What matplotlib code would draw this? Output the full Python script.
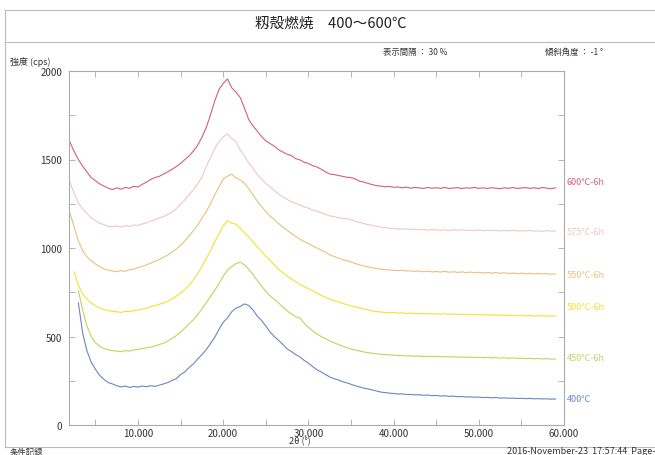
import numpy as np
import matplotlib
matplotlib.use("Agg")
import matplotlib.pyplot as plt
from matplotlib.lines import Line2D

plt.rcParams['font.family'] = ['Noto Sans CJK JP', 'DejaVu Sans']

nan = np.nan
two_theta = np.arange(2.0, 59.01, 0.5)

s600 = [1600, 1545, 1500, 1462, 1430, 1398, 1380, 1362, 1350, 1338,
        1330, 1340, 1332, 1342, 1338, 1348, 1345, 1360, 1372, 1388,
        1398, 1405, 1418, 1430, 1445, 1460, 1478, 1500, 1520, 1548,
        1580, 1625, 1680, 1750, 1830, 1895, 1930, 1955, 1905, 1880,
        1850, 1790, 1725, 1690, 1660, 1630, 1605, 1590, 1575, 1555,
        1542, 1530, 1522, 1505, 1498, 1485, 1478, 1465, 1458, 1445,
        1430, 1418, 1415, 1410, 1405, 1400, 1398, 1390, 1378, 1372,
        1365, 1358, 1352, 1350, 1346, 1348, 1343, 1345, 1340, 1344,
        1338, 1342, 1340, 1336, 1342, 1338, 1340, 1337, 1342, 1336,
        1339, 1341, 1336, 1340, 1338, 1342, 1337, 1340, 1336, 1341,
        1338, 1335, 1340, 1337, 1342, 1336, 1339, 1341, 1337, 1340,
        1336, 1342, 1338, 1335, 1340]

s575 = [1372, 1310, 1255, 1222, 1195, 1170, 1155, 1140, 1132, 1122,
        1120, 1125, 1118, 1126, 1122, 1130, 1128, 1136, 1142, 1152,
        1160, 1170, 1178, 1190, 1203, 1222, 1248, 1272, 1300, 1330,
        1362, 1400, 1460, 1510, 1560, 1600, 1628, 1644, 1620, 1600,
        1555, 1520, 1480, 1450, 1415, 1390, 1365, 1345, 1325, 1305,
        1288, 1275, 1262, 1252, 1242, 1232, 1225, 1215, 1209, 1200,
        1190, 1181, 1178, 1172, 1168, 1165, 1160, 1150, 1145, 1138,
        1132, 1128, 1122, 1118, 1115, 1112, 1110, 1108, 1106, 1109,
        1104, 1106, 1103, 1105, 1101, 1104, 1102, 1100, 1104, 1099,
        1102, 1100, 1103, 1098, 1101, 1099, 1102, 1097, 1100, 1098,
        1101, 1096, 1099, 1097, 1100, 1095, 1098, 1096, 1099, 1095,
        1097, 1094, 1098, 1095, 1096]

s550 = [1200, 1120, 1040, 985, 950, 928, 910, 895, 882, 875,
        870, 866, 872, 868, 878, 880, 890, 896, 905, 915,
        925, 935, 948, 960, 977, 995, 1015, 1040, 1068, 1098,
        1130, 1168, 1205, 1250, 1300, 1345, 1390, 1405, 1418, 1395,
        1385, 1365, 1335, 1300, 1265, 1235, 1205, 1180, 1160, 1138,
        1119, 1100, 1082, 1065, 1050, 1036, 1025, 1012, 1000, 988,
        975, 962, 952, 943, 935, 928, 921, 912, 905, 898,
        893, 888, 884, 881, 878, 876, 874, 872, 874, 870,
        871, 868, 870, 866, 869, 865, 867, 864, 868, 863,
        866, 862, 865, 861, 864, 860, 863, 859, 862, 858,
        861, 857, 860, 856, 859, 855, 858, 854, 857, 853,
        856, 853, 855, 852, 853]

s500 = [nan, 865, 790, 740, 712, 690, 675, 662, 652, 648,
        642, 640, 636, 642, 640, 646, 650, 655, 660, 668,
        675, 682, 690, 700, 712, 728, 745, 765, 790, 820,
        855, 895, 940, 985, 1035, 1080, 1125, 1153, 1140, 1135,
        1110, 1085, 1062, 1035, 1005, 980, 955, 930, 905, 880,
        860, 842, 825, 810, 795, 782, 770, 758, 745, 732,
        722, 712, 703, 695, 688, 680, 673, 668, 660, 655,
        650, 645, 641, 638, 636, 634, 635, 632, 634, 630,
        632, 629, 631, 628, 630, 627, 629, 626, 629, 625,
        628, 624, 627, 623, 626, 622, 625, 621, 624, 620,
        623, 619, 622, 618, 621, 617, 620, 616, 619, 615,
        618, 615, 617, 614, 616]

s450 = [nan, nan, 760, 650, 560, 500, 465, 445, 432, 425,
        420, 418, 414, 420, 418, 425, 426, 432, 436, 440,
        446, 455, 462, 475, 490, 505, 525, 548, 572, 595,
        625, 655, 690, 725, 760, 800, 840, 875, 895, 912,
        920, 905, 880, 850, 815, 785, 755, 728, 710, 690,
        665, 645, 628, 612, 605, 575, 552, 532, 515, 500,
        488, 475, 465, 455, 446, 438, 430, 424, 418, 413,
        409, 405, 402, 400, 398, 396, 395, 392, 394, 390,
        391, 388, 390, 387, 389, 386, 388, 385, 387, 384,
        386, 383, 385, 382, 384, 381, 383, 380, 382, 379,
        381, 378, 380, 377, 379, 376, 378, 375, 377, 374,
        376, 373, 375, 372, 373]

s400 = [nan, nan, 690, 520, 420, 355, 315, 280, 258, 240,
        232, 222, 215, 220, 212, 218, 214, 220, 216, 222,
        218, 225, 232, 240, 252, 262, 285, 300, 325, 345,
        372, 398, 425, 460, 495, 540, 580, 605, 640, 660,
        670, 684, 675, 650, 615, 590, 560, 525, 500, 478,
        455, 430, 415, 398, 385, 365, 350, 330, 312, 300,
        285, 272, 262, 255, 245, 238, 230, 222, 215, 208,
        204, 198, 192, 186, 183, 180, 178, 175, 176, 172,
        173, 170, 171, 168, 169, 166, 167, 164, 165, 162,
        163, 160, 161, 158, 159, 157, 158, 155, 156, 154,
        155, 152, 153, 151, 152, 150, 151, 149, 150, 148,
        149, 147, 148, 146, 147]

series = [s600, s575, s550, s500, s450, s400]
labels = ["600℃-6h", "575℃-6h", "550℃-6h", "500℃-6h", "450℃-6h", "400℃"]
colors = ["#d4607a", "#efc6c8", "#e6c27a", "#f0e232", "#c2d35a", "#6a86c4"]
label_y = [1373, 1096, 853, 672, 384, 147]

W, H = 655, 456
fig = plt.figure(figsize=(W / 100, H / 100), dpi=100)
fig.patch.set_facecolor("white")

def fx(px):
    return px / W

def fy(py):
    return 1 - py / H

ax = fig.add_axes([fx(69), fy(426), fx(564) - fx(69), fy(72) - fy(426)])

for s, c in zip(series, colors):
    ax.plot(two_theta, s, color=c, lw=0.8)

for lab, c, ly in zip(labels, colors, label_y):
    ax.text(60.35, ly, lab, color=c, fontsize=6.5, va="center", ha="left",
            clip_on=False)

ax.set_xlim(1.9, 60)
ax.set_ylim(0, 2000)
ax.set_xticks(np.arange(5, 60.1, 5))
ax.set_xticklabels(["" if v % 10 else f"{v:.3f}" for v in np.arange(5, 60.1, 5)])
ax.set_yticks(np.arange(0, 2001, 250))
ax.set_yticklabels([f"{v}" if v % 500 == 0 else "" for v in range(0, 2001, 250)])
ax.tick_params(direction="in", length=4, width=0.6, color="#aaaaaa",
               labelsize=7, labelcolor="#333333", top=True, right=True)
ax.tick_params(axis="x", pad=2)
ax.tick_params(axis="y", pad=5)
for sp in ax.spines.values():
    sp.set_color("#aaaaaa")
    sp.set_linewidth(0.8)

# frame and header
fig.add_artist(Line2D([fx(5), fx(5)], [fy(11), fy(448)], color="#bbbbbb", lw=0.8))
fig.add_artist(Line2D([fx(5), 1], [fy(11), fy(11)], color="#bbbbbb", lw=0.8))
fig.add_artist(Line2D([fx(5), 1], [fy(43), fy(43)], color="#bbbbbb", lw=0.8))
fig.add_artist(Line2D([fx(5), 1], [fy(448), fy(448)], color="#bbbbbb", lw=0.8))

fig.text(fx(331), fy(24), "籾殻燃焼　400～600℃", ha="center", va="center",
         fontsize=10.5, color="#222222")
fig.text(fx(383), fy(52), "表示間隔 ： 30 %", ha="left", va="center",
         fontsize=6, color="#333333")
fig.text(fx(545), fy(52), "傾斜角度 ： -1 °", ha="left", va="center",
         fontsize=6, color="#333333")
fig.text(fx(10), fy(62), "強度 (cps)", ha="left", va="center",
         fontsize=6.5, color="#333333")
fig.text(fx(300), fy(442), "2θ (°)", ha="center", va="center",
         fontsize=6.5, color="#333333")
fig.text(fx(10), fy(453), "条件記録", ha="left", va="center",
         fontsize=6, color="#333333")
fig.text(fx(655), fy(452), "2016-November-23  17:57:44  Page-", ha="right",
         va="center", fontsize=6.5, color="#333333")

fig.savefig("out.png", dpi=100, facecolor="white")
